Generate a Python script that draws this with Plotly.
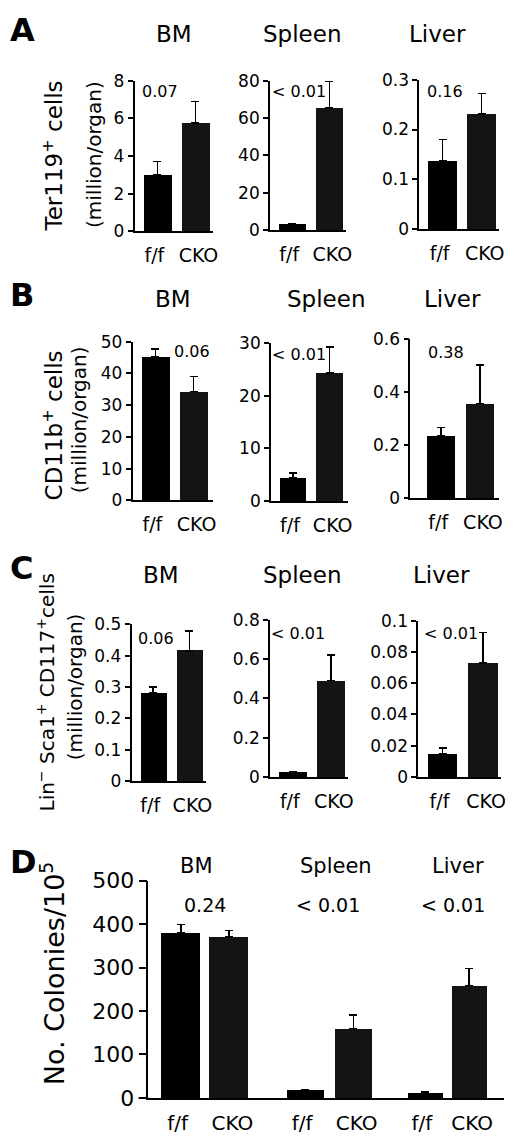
import plotly.graph_objects as go

W, H = 520, 1143
OFF = 8  # the page puts the plot 8px in from the top-left corner
FONT = "DejaVu Sans, Liberation Sans, Arial, sans-serif"

groups = ["f/f", "CKO"]
organs = ["BM", "Spleen", "Liver"]

# A: Ter119+ cells (million/organ)
ter_mean = [[3.0, 5.75], [3.7, 65.5], [0.137, 0.231]]
ter_err = [[0.7, 1.15], [0, 14.1], [0.043, 0.041]]
ter_p = ["0.07", "< 0.01", "0.16"]

# B: CD11b+ cells
cd11b_mean = [[45.4, 34.3], [4.5, 24.3], [0.234, 0.357]]
cd11b_err = [[2.3, 4.7], [0.9, 4.9], [0.032, 0.145]]
cd11b_p = ["0.06", "< 0.01", "0.38"]

# C: Lin- Sca1+ CD117+ cells
lsk_mean = [[0.281, 0.416], [0.028, 0.491], [0.015, 0.073]]
lsk_err = [[0.019, 0.063], [0, 0.13], [0.0035, 0.0195]]
lsk_p = ["0.06", "< 0.01", "< 0.01"]

# D: colonies per 10^5
col_mean = [[380, 371], [19, 160], [13, 259]]
col_err = [[19, 14], [0, 31], [0, 39]]
col_p = ["0.24", "< 0.01", "< 0.01"]

# y-axis ranges / tick steps
ter_ymax, ter_dtick = [8, 80, 0.3], [2, 20, 0.1]
cd11b_ymax, cd11b_dtick = [50, 30, 0.6], [10, 10, 0.2]
lsk_ymax, lsk_dtick = [0.5, 0.8, 0.1], [0.1, 0.2, 0.02]
col_ymax, col_dtick = 500, 100

fig = go.Figure()
count = [0]
NB = "\u00a0"


def px_x(v):
    return (v - OFF) / W


def px_y(v):
    return 1 - (v - OFF) / H


def add_plot(means, errs, ymax, dtick, box, xrange=(-0.6, 1.45), width=0.73,
             tickfont=17, xfont=19, show_y=True, yticklen=5):
    count[0] += 1
    s = "" if count[0] == 1 else str(count[0])
    x0, x1, y0, y1 = box
    fig.add_trace(go.Bar(
        x=groups, y=means, width=width,
        marker=dict(color=["#000000", "#141414"], line_width=0),
        error_y=dict(type="data", array=errs, arrayminus=[0, 0], symmetric=False,
                     color="black", thickness=1.6, width=4),
        xaxis="x" + s, yaxis="y" + s, showlegend=False, hoverinfo="skip"))
    fig.layout["xaxis" + s] = dict(
        domain=[px_x(x0), px_x(x1)], anchor="y" + s, type="category",
        range=list(xrange), showline=True, linecolor="black", linewidth=1.6,
        tickvals=groups, ticktext=[groups[0] + NB, NB + groups[1]], tickangle=0,
        ticks="outside", ticklen=6, tickcolor="rgba(0,0,0,0)",
        tickfont=dict(size=xfont, color="black", family=FONT),
        showgrid=False, zeroline=False)
    fig.layout["yaxis" + s] = dict(
        domain=[px_y(y1), px_y(y0)], anchor="x" + s, range=[0, ymax], dtick=dtick,
        showline=show_y, linecolor="black", linewidth=1.6,
        ticks="outside" if show_y else "", ticklen=yticklen, tickwidth=1.6,
        tickcolor="black", showticklabels=show_y,
        tickfont=dict(size=tickfont, color="black", family=FONT),
        showgrid=False, zeroline=False)


def text(x, y, s, size, bold=False, angle=0, anchor="center"):
    if bold:
        s = "<b>" + s + "</b>"
    fig.add_annotation(x=px_x(x), y=px_y(y), xref="paper", yref="paper",
                       text=s, showarrow=False, textangle=angle,
                       xanchor=anchor, yanchor="middle",
                       font=dict(size=size, color="black", family=FONT))


# panel boxes (left, right, top, bottom) in pixels
a_boxes = [(136, 215, 70, 224), (273, 350, 70, 223), (424, 505, 69, 222)]
b_boxes = [(134, 215, 337, 499), (274, 352, 338, 500), (415, 505, 334, 497)]
c_boxes = [(133, 208, 626, 786), (273, 352, 621, 782), (423, 507, 622, 782)]
d_boxes = [(150, 270, 888, 1110), (270, 390, 888, 1110), (390, 510, 888, 1110)]
b_xr = [(-0.6, 1.5), (-0.6, 1.5), (-0.8, 1.5)]
d_xr = [(-0.67, 1.78), (-0.8, 1.67), (-0.9, 1.8)]
d_w = [0.8, 0.78, 0.81]

for i in range(3):
    add_plot(ter_mean[i], ter_err[i], ter_ymax[i], ter_dtick[i], a_boxes[i])
for i in range(3):
    add_plot(cd11b_mean[i], cd11b_err[i], cd11b_ymax[i], cd11b_dtick[i], b_boxes[i], xrange=b_xr[i])
for i in range(3):
    add_plot(lsk_mean[i], lsk_err[i], lsk_ymax[i], lsk_dtick[i], c_boxes[i])
for i in range(3):
    add_plot(col_mean[i], col_err[i], col_ymax, col_dtick, d_boxes[i], xrange=d_xr[i],
             width=d_w[i], tickfont=22, xfont=20, show_y=(i == 0), yticklen=8)

# the x-axis line in D starts a little left of its y axis
fig.add_shape(type="line", xref="paper", yref="paper",
              x0=px_x(140), x1=px_x(150), y0=px_y(1110), y1=px_y(1110),
              line=dict(color="black", width=1.6))

# panel letters (left edge of the page)
for s, y in zip(["A", "B", "C", "D"], [18, 289, 568, 869]):
    text(OFF, y, s, 32, bold=True, anchor="left")

# organ titles
for s, x in zip(organs, [176, 305, 443]):
    text(x, 22, s, 23)
for s, x in zip(organs, [175, 330, 458]):
    text(x, 293, s, 23)
for s, x in zip(organs, [163, 305, 447]):
    text(x, 575, s, 23)
for s, x in zip(organs, [199, 340, 463]):
    text(x, 873, s, 21)

# p values
for s, x in zip(ter_p, [162, 302, 450]):
    text(x, 81, s, 16)
for s, x, y in zip(cd11b_p, [194, 302, 451], [347, 350, 348]):
    text(x, y, s, 16)
for s, x, y in zip(lsk_p, [158, 301, 456], [640, 635, 635]):
    text(x, y, s, 16)
for s, x in zip(col_p, [207, 332, 458]):
    text(x, 913, s, 19)

# y-axis titles
text(53, 147, "Ter119<sup>+</sup> cells", 23, angle=-90)
text(95, 145, "(million/organ)", 20, angle=-90)
text(53, 422, "CD11b<sup>+</sup> cells", 23, angle=-90)
text(80, 417, "(million/organ)", 20, angle=-90)
text(46, 696, "Lin<sup>−</sup> Sca1<sup>+</sup> CD117<sup>+</sup>cells", 20, angle=-90)
text(76, 690, "(million/organ)", 20, angle=-90)
text(53, 982, "No. Colonies/10<sup>5</sup>", 27, angle=-90)

fig.update_layout(
    width=W, height=H,
    margin=dict(l=0, r=0, t=0, b=0),
    paper_bgcolor="white", plot_bgcolor="white",
    font=dict(family=FONT, color="black"),
    bargap=0,
)

fig.write_html("out.html")
